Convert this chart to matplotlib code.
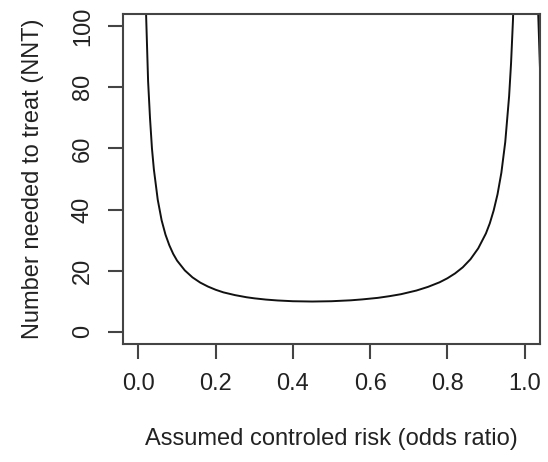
import numpy as np
import matplotlib
matplotlib.use('Agg')
import matplotlib.pyplot as plt

plt.rcParams['font.family'] = ['Liberation Sans', 'DejaVu Sans']

# control risk values, NNT at each (nan where the curve breaks at 1.0)
risk = [0.01, 0.015, 0.02, 0.025, 0.03, 0.035, 0.04, 0.05, 0.06, 0.07, 0.08,
        0.09, 0.10, 0.12, 0.14, 0.16, 0.18, 0.20, 0.22, 0.25, 0.28, 0.30,
        0.33, 0.36, 0.40, 0.45, 0.50, 0.55, 0.58, 0.62, 0.65, 0.68, 0.72,
        0.75, 0.78, 0.80, 0.82, 0.84, 0.86, 0.88, 0.90, 0.91, 0.92, 0.93,
        0.94, 0.95, 0.96, 0.965, 0.97, 0.975, 0.98, 0.99, 1.00,
        1.02, 1.03, 1.04, 1.05]
nnt = [202, 135, 103, 82, 69.8, 60, 53.1, 43.2, 36.5, 31.8, 28.3,
       25.5, 23.3, 20.1, 17.8, 16.1, 14.8, 13.75, 12.9, 12.0, 11.3, 10.95,
       10.54, 10.25, 10.0, 9.9, 10.0, 10.3, 10.6, 11.1, 11.65, 12.3, 13.5,
       14.7, 16.2, 17.5, 19.1, 21.1, 23.75, 27.3, 32.2, 35.5, 39.7, 45,
       52.1, 62.1, 77.1, 87.8, 102, 122, 152, 300, np.nan,
       190, 125, 86, 65]

xticks = [0.0, 0.2, 0.4, 0.6, 0.8, 1.0]
yticks = [0, 20, 40, 60, 80, 100]

fig = plt.figure(figsize=(5.48, 4.62), dpi=100)
ax = fig.add_axes([123 / 548, 1 - 344 / 462, (540 - 123) / 548, (344 - 14) / 462])

ax.plot(risk, nnt, color='#111111', lw=1.4)

ax.set_xlim(-0.04, 1.04)
ax.set_ylim(-4, 104)
ax.set_xticks(xticks)
ax.set_xticklabels(['%.1f' % v for v in xticks])
ax.set_yticks(yticks)
ax.set_yticklabels([str(v) for v in yticks], rotation=90, va='center')

for s in ax.spines.values():
    s.set_color('#444444')
    s.set_linewidth(1.5)
ax.tick_params(direction='out', length=11, width=1.5, color='#444444',
               labelsize=17, labelcolor='#222222', pad=10)

ax.set_xlabel('Assumed controled risk (odds ratio)', fontsize=17, color='#222222', labelpad=24)
ax.set_ylabel('Number needed to treat (NNT)', fontsize=17, color='#222222', labelpad=20)

fig.savefig('out.png', dpi=100)
